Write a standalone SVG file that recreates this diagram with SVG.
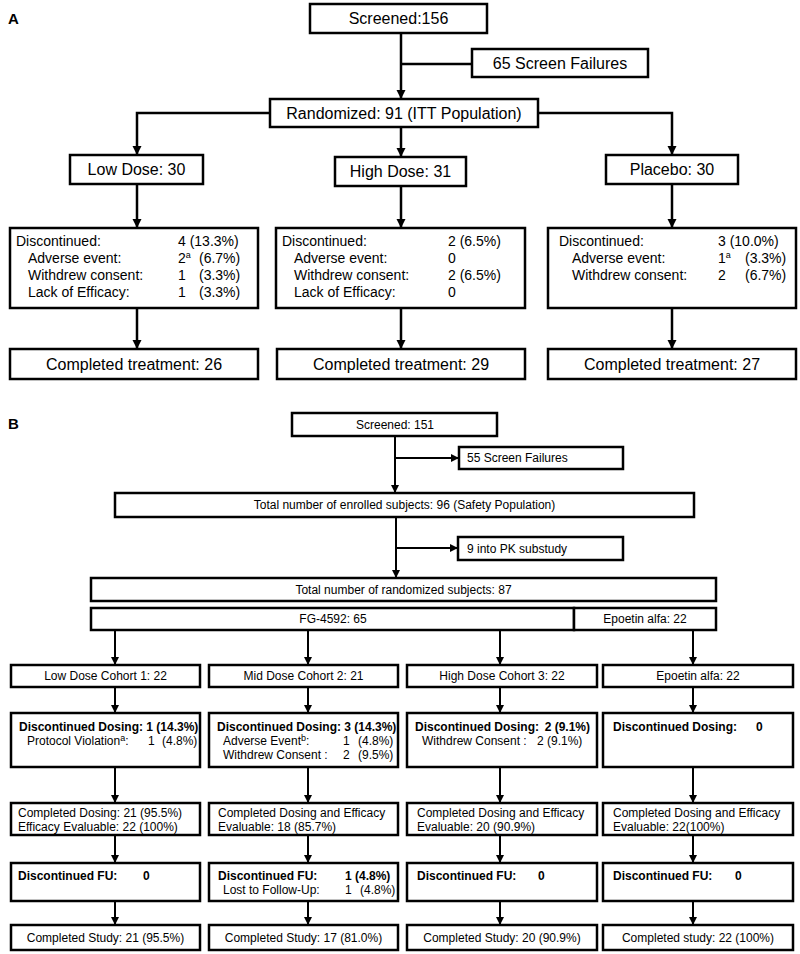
<svg xmlns="http://www.w3.org/2000/svg" width="800" height="954" viewBox="0 0 800 954">
<style>
rect{fill:#fff;stroke:#000;stroke-width:2.5}
text{font-family:"Liberation Sans",Arial,sans-serif;fill:#000}
.a16{font-size:16px}
.a14{font-size:14px}
.b12{font-size:12px}
.bold{font-weight:bold}
.mid{text-anchor:middle}
.end{text-anchor:end}
.lbl{font-size:15px;font-weight:bold}
.ca{fill:none;stroke:#000;stroke-width:2.5}
.cb{fill:none;stroke:#000;stroke-width:2}
.sup{font-size:9px}
</style>
<defs>
<marker id="ahA" markerUnits="userSpaceOnUse" markerWidth="10" markerHeight="10" refX="9" refY="5" orient="auto"><path d="M0,0.5 L9,5 L0,9.5 z" fill="#000"/></marker>
<marker id="ahB" markerUnits="userSpaceOnUse" markerWidth="9" markerHeight="9" refX="8" refY="4.5" orient="auto"><path d="M0,0.5 L8,4.5 L0,8.5 z" fill="#000"/></marker>
</defs>
<rect x="0" y="0" width="800" height="954" style="stroke:none"/>
<text class="lbl" x="8" y="24">A</text>
<text class="lbl" x="8" y="429">B</text>

<g id="connectors">
<path class="ca" d="M401,33 V99" marker-end="url(#ahA)"/>
<path class="ca" d="M401,64 H472"/>
<path class="ca" d="M270,113 H137 V155" marker-end="url(#ahA)"/>
<path class="ca" d="M538,113 H672 V155" marker-end="url(#ahA)"/>
<path class="ca" d="M401,127 V157" marker-end="url(#ahA)"/>
<path class="ca" d="M137,184 V228" marker-end="url(#ahA)"/>
<path class="ca" d="M401,186 V228" marker-end="url(#ahA)"/>
<path class="ca" d="M672,184 V228" marker-end="url(#ahA)"/>
<path class="ca" d="M137,308 V349" marker-end="url(#ahA)"/>
<path class="ca" d="M401,308 V349" marker-end="url(#ahA)"/>
<path class="ca" d="M672,308 V349" marker-end="url(#ahA)"/>

<path class="cb" d="M395,436 V493" marker-end="url(#ahB)"/>
<path class="cb" d="M395,458 H459" marker-end="url(#ahB)"/>
<path class="cb" d="M396,517 V578" marker-end="url(#ahB)"/>
<path class="cb" d="M396,548 H458" marker-end="url(#ahB)"/>
<path class="cb" d="M115,630 V665" marker-end="url(#ahB)"/>
<path class="cb" d="M308,630 V665" marker-end="url(#ahB)"/>
<path class="cb" d="M500,630 V665" marker-end="url(#ahB)"/>
<path class="cb" d="M693,630 V665" marker-end="url(#ahB)"/>
<path class="cb" d="M115,687 V713" marker-end="url(#ahB)"/>
<path class="cb" d="M308,687 V713" marker-end="url(#ahB)"/>
<path class="cb" d="M500,687 V713" marker-end="url(#ahB)"/>
<path class="cb" d="M693,687 V713" marker-end="url(#ahB)"/>
<path class="cb" d="M115,767 V803" marker-end="url(#ahB)"/>
<path class="cb" d="M308,767 V803" marker-end="url(#ahB)"/>
<path class="cb" d="M500,767 V803" marker-end="url(#ahB)"/>
<path class="cb" d="M693,767 V803" marker-end="url(#ahB)"/>
<path class="cb" d="M115,835 V863" marker-end="url(#ahB)"/>
<path class="cb" d="M308,835 V863" marker-end="url(#ahB)"/>
<path class="cb" d="M500,835 V863" marker-end="url(#ahB)"/>
<path class="cb" d="M693,835 V863" marker-end="url(#ahB)"/>
<path class="cb" d="M115,901 V925" marker-end="url(#ahB)"/>
<path class="cb" d="M308,901 V925" marker-end="url(#ahB)"/>
<path class="cb" d="M500,901 V925" marker-end="url(#ahB)"/>
<path class="cb" d="M693,901 V925" marker-end="url(#ahB)"/>
</g>

<!-- Panel A -->
<g id="a-screened"><rect x="310" y="4" width="177" height="29"/><text class="a16 mid" x="398.5" y="24">Screened:156</text></g>
<g id="a-screen-failures"><rect x="472" y="49" width="176" height="28"/><text class="a16 mid" x="560" y="69">65 Screen Failures</text></g>
<g id="a-randomized"><rect x="270" y="99" width="268" height="28"/><text class="a16 mid" x="404" y="119">Randomized: 91 (ITT Population)</text></g>
<g id="a-low"><rect x="70" y="155" width="133" height="29"/><text class="a16 mid" x="136.5" y="175">Low Dose: 30</text></g>
<g id="a-high"><rect x="335" y="157" width="131" height="29"/><text class="a16 mid" x="400.5" y="177">High Dose: 31</text></g>
<g id="a-placebo"><rect x="606" y="155" width="132" height="29"/><text class="a16 mid" x="672" y="175">Placebo: 30</text></g>

<g id="a-disc-low"><rect x="10" y="228" width="248" height="80"/>
<text class="a14" x="16" y="246">Discontinued:</text><text class="a14" x="178" y="246">4 (13.3%)</text>
<text class="a14" x="28" y="263">Adverse  event:</text><text class="a14" x="178" y="263">2<tspan class="sup" dy="-5">a</tspan><tspan x="199" dy="5">(6.7%)</tspan></text>
<text class="a14" x="28" y="280">Withdrew consent:</text><text class="a14" x="178" y="280">1</text><text class="a14" x="199" y="280">(3.3%)</text>
<text class="a14" x="28" y="297">Lack of Efficacy:</text><text class="a14" x="178" y="297">1</text><text class="a14" x="199" y="297">(3.3%)</text>
</g>
<g id="a-disc-high"><rect x="276" y="228" width="249" height="80"/>
<text class="a14" x="282" y="246">Discontinued:</text><text class="a14" x="448" y="246">2 (6.5%)</text>
<text class="a14" x="294" y="263">Adverse  event:</text><text class="a14" x="448" y="263">0</text>
<text class="a14" x="294" y="280">Withdrew consent:</text><text class="a14" x="448" y="280">2 (6.5%)</text>
<text class="a14" x="294" y="297">Lack of Efficacy:</text><text class="a14" x="448" y="297">0</text>
</g>
<g id="a-disc-placebo"><rect x="548" y="228" width="248" height="80"/>
<text class="a14" x="559" y="246">Discontinued:</text><text class="a14" x="718" y="246">3 (10.0%)</text>
<text class="a14" x="572" y="263">Adverse  event:</text><text class="a14" x="718" y="263">1<tspan class="sup" dy="-5">a</tspan><tspan x="745" dy="5">(3.3%)</tspan></text>
<text class="a14" x="572" y="280">Withdrew consent:</text><text class="a14" x="718" y="280">2</text><text class="a14" x="745" y="280">(6.7%)</text>
</g>
<g id="a-comp-low"><rect x="10" y="349" width="248" height="30"/><text class="a16 mid" x="134" y="370">Completed treatment: 26</text></g>
<g id="a-comp-high"><rect x="277" y="349" width="248" height="30"/><text class="a16 mid" x="401" y="370">Completed treatment: 29</text></g>
<g id="a-comp-placebo"><rect x="548" y="349" width="248" height="30"/><text class="a16 mid" x="672" y="370">Completed treatment: 27</text></g>

<!-- Panel B -->
<g id="b-screened"><rect x="292" y="413" width="205" height="23"/><text class="b12 mid" x="395" y="429">Screened: 151</text></g>
<g id="b-screen-failures"><rect x="459" y="447" width="164" height="22"/><text class="b12" x="467" y="462">55 Screen Failures</text></g>
<g id="b-enrolled"><rect x="115" y="493" width="579" height="24"/><text class="b12 mid" x="404.5" y="509">Total number of enrolled subjects: 96 (Safety Population)</text></g>
<g id="b-pk"><rect x="458" y="537" width="165" height="23"/><text class="b12" x="467" y="553">9 into PK substudy</text></g>
<g id="b-randomized"><rect x="91" y="578" width="625" height="23"/><text class="b12 mid" x="403.5" y="594">Total number of randomized subjects: 87</text></g>
<g id="b-fg"><rect x="91" y="608" width="483" height="22"/><text class="b12 mid" x="333" y="623">FG-4592: 65</text></g>
<g id="b-epo-arm"><rect x="574" y="608" width="142" height="22"/><text class="b12 mid" x="645" y="623">Epoetin alfa: 22</text></g>

<g id="b-low"><rect x="11" y="665" width="189" height="22"/><text class="b12 mid" x="105.5" y="680">Low Dose Cohort 1: 22</text></g>
<g id="b-mid"><rect x="209" y="665" width="189" height="22"/><text class="b12 mid" x="303.5" y="680">Mid  Dose Cohort 2: 21</text></g>
<g id="b-high"><rect x="407" y="665" width="190" height="22"/><text class="b12 mid" x="502" y="680">High Dose Cohort 3: 22</text></g>
<g id="b-epo"><rect x="603" y="665" width="190" height="22"/><text class="b12 mid" x="698" y="680">Epoetin alfa: 22</text></g>

<g id="b-disc-low"><rect x="11" y="713" width="189" height="54"/>
<text class="b12 bold" x="19" y="731">Discontinued Dosing: 1 (14.3%)</text>
<text class="b12" x="27" y="745">Protocol Violation<tspan class="sup" dy="-4">a</tspan><tspan dy="4">:</tspan></text><text class="b12" x="148" y="745">1</text><text class="b12" x="162" y="745">(4.8%)</text>
</g>
<g id="b-disc-mid"><rect x="209" y="713" width="189" height="54"/>
<text class="b12 bold" x="217" y="731">Discontinued Dosing: 3 (14.3%)</text>
<text class="b12" x="223" y="745">Adverse Event<tspan class="sup" dy="-4">b</tspan><tspan dy="4">:</tspan></text><text class="b12" x="343" y="745">1</text><text class="b12" x="358" y="745">(4.8%)</text>
<text class="b12" x="223" y="759">Withdrew Consent :</text><text class="b12" x="343" y="759">2</text><text class="b12" x="358" y="759">(9.5%)</text>
</g>
<g id="b-disc-high"><rect x="407" y="713" width="190" height="54"/>
<text class="b12 bold" x="415" y="731">Discontinued Dosing:</text><text class="b12 bold end" x="590" y="731">2 (9.1%)</text>
<text class="b12" x="422" y="745">Withdrew Consent :</text><text class="b12" x="537" y="745">2 (9.1%)</text>
</g>
<g id="b-disc-epo"><rect x="603" y="713" width="190" height="54"/>
<text class="b12 bold" x="613" y="731">Discontinued Dosing:</text><text class="b12 bold" x="756" y="731">0</text>
</g>

<g id="b-compdose-low"><rect x="11" y="803" width="189" height="32"/>
<text class="b12" x="18" y="817">Completed Dosing: 21 (95.5%)</text>
<text class="b12" x="18" y="831">Efficacy Evaluable: 22 (100%)</text>
</g>
<g id="b-compdose-mid"><rect x="209" y="803" width="189" height="32"/>
<text class="b12" x="218" y="817">Completed Dosing and Efficacy</text>
<text class="b12" x="218" y="831">Evaluable: 18 (85.7%)</text>
</g>
<g id="b-compdose-high"><rect x="407" y="803" width="190" height="32"/>
<text class="b12" x="417" y="817">Completed Dosing and Efficacy</text>
<text class="b12" x="417" y="831">Evaluable: 20 (90.9%)</text>
</g>
<g id="b-compdose-epo"><rect x="603" y="803" width="190" height="32"/>
<text class="b12" x="613" y="817">Completed Dosing and Efficacy</text>
<text class="b12" x="613" y="831">Evaluable: 22(100%)</text>
</g>

<g id="b-fu-low"><rect x="11" y="863" width="189" height="38"/>
<text class="b12 bold" x="18" y="880">Discontinued FU:</text><text class="b12 bold" x="143" y="880">0</text>
</g>
<g id="b-fu-mid"><rect x="209" y="863" width="189" height="38"/>
<text class="b12 bold" x="218" y="880">Discontinued FU:</text><text class="b12 bold" x="345" y="880">1 (4.8%)</text>
<text class="b12" x="223" y="894">Lost to Follow-Up:</text><text class="b12" x="345" y="894">1</text><text class="b12" x="360" y="894">(4.8%)</text>
</g>
<g id="b-fu-high"><rect x="407" y="863" width="190" height="38"/>
<text class="b12 bold" x="417" y="880">Discontinued FU:</text><text class="b12 bold" x="538" y="880">0</text>
</g>
<g id="b-fu-epo"><rect x="603" y="863" width="190" height="38"/>
<text class="b12 bold" x="613" y="880">Discontinued FU:</text><text class="b12 bold" x="735" y="880">0</text>
</g>

<g id="b-study-low"><rect x="11" y="925" width="189" height="25"/><text class="b12 mid" x="105.5" y="942">Completed Study: 21 (95.5%)</text></g>
<g id="b-study-mid"><rect x="209" y="925" width="189" height="25"/><text class="b12 mid" x="303.5" y="942">Completed Study: 17 (81.0%)</text></g>
<g id="b-study-high"><rect x="407" y="925" width="190" height="25"/><text class="b12 mid" x="502" y="942">Completed Study: 20 (90.9%)</text></g>
<g id="b-study-epo"><rect x="603" y="925" width="190" height="25"/><text class="b12 mid" x="698" y="942">Completed study: 22 (100%)</text></g>
</svg>
